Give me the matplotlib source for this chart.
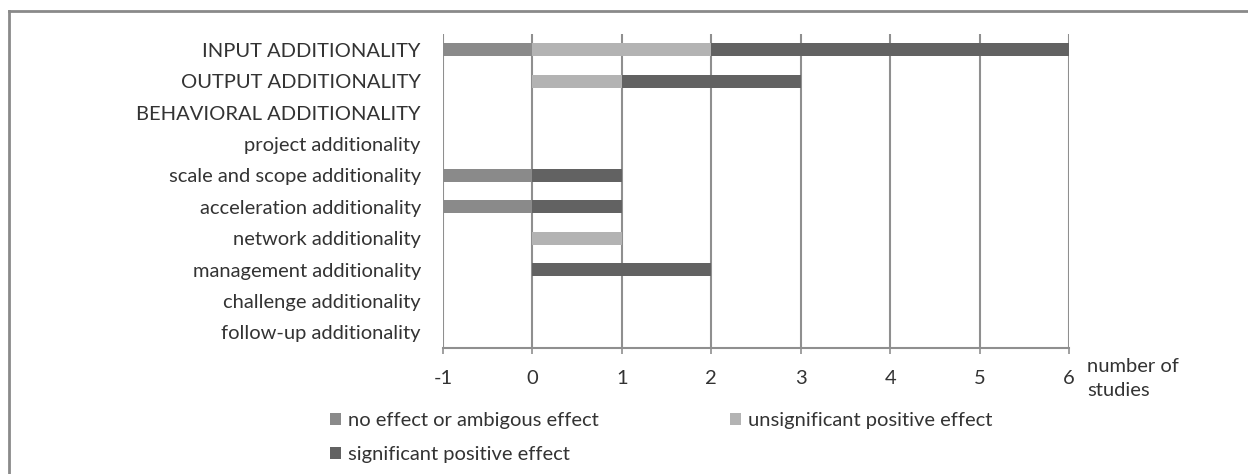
import matplotlib
matplotlib.use("Agg")
import matplotlib.pyplot as plt
from matplotlib.lines import Line2D
import numpy as np

plt.rcParams['font.family'] = ['Lato', 'DejaVu Sans']

categories = [
    "INPUT ADDITIONALITY",
    "OUTPUT ADDITIONALITY",
    "BEHAVIORAL ADDITIONALITY",
    "project additionality",
    "scale and scope additionality",
    "acceleration additionality",
    "network additionality",
    "management additionality",
    "challenge additionality",
    "follow-up additionality",
]
no_effect = [1, 0, 0, 0, 1, 1, 0, 0, 0, 0]
unsignificant = [2, 1, 0, 0, 0, 0, 1, 0, 0, 0]
significant = [4, 2, 0, 0, 1, 1, 0, 2, 0, 0]
series_labels = ["no effect or ambigous effect", "unsignificant positive effect",
                 "significant positive effect"]
xticks = [-1, 0, 1, 2, 3, 4, 5, 6]

c_no = "#8a8a8a"
c_unsig = "#b3b3b3"
c_sig = "#626262"
grid_c = "#8f8f8f"
text_c = "#333333"
fs = 14.5

W, H = 1248, 474
fig = plt.figure(figsize=(W / 100, H / 100), dpi=100)
ax = fig.add_axes([443 / W, 1 - 348 / H, (1069 - 443) / W, (348 - 34) / H])

y = np.arange(len(categories))
ne = np.array(no_effect, dtype=float)
us = np.array(unsignificant, dtype=float)
sg = np.array(significant, dtype=float)
bh = 0.42
b1 = ax.barh(y, ne, left=-ne, height=bh, color=c_no, label=series_labels[0], zorder=3)
b2 = ax.barh(y, us, left=0, height=bh, color=c_unsig, label=series_labels[1], zorder=3)
b3 = ax.barh(y, sg, left=us, height=bh, color=c_sig, label=series_labels[2], zorder=3)

ax.set_xlim(-1, 6)
ax.set_ylim(len(categories) - 0.5, -0.5)
ax.set_xticks(xticks)
ax.set_xticklabels([str(t) for t in xticks])
ax.set_yticks(y)
ax.set_yticklabels(categories)
for t in xticks:
    ax.axvline(t, color=grid_c, lw=1.5, zorder=1)

for s in ["top", "right", "left"]:
    ax.spines[s].set_visible(False)
ax.spines["bottom"].set_color(grid_c)
ax.spines["bottom"].set_linewidth(1.5)
ax.tick_params(axis="x", length=4.5, width=1.2, color=grid_c, pad=11.5,
               labelsize=fs, labelcolor=text_c)
ax.tick_params(axis="y", length=0, pad=16, labelsize=fs, labelcolor=text_c)

fig.text(1087 / W, 1 - 379 / H, "number of\nstudies", ha="left", va="center",
         fontsize=fs, color=text_c, linespacing=1.5)

leg = fig.legend([b1, b3, b2], [series_labels[0], series_labels[2], series_labels[1]],
                 ncol=2, loc="upper left", bbox_to_anchor=(330 / W, 1 - 412 / H),
                 frameon=False, fontsize=fs, handlelength=0.55, handleheight=0.55,
                 handletextpad=0.35, columnspacing=6.5, labelspacing=0.85,
                 borderpad=0, borderaxespad=0)
for t in leg.get_texts():
    t.set_color(text_c)

# outer frame (cropped on right and bottom)
fig.add_artist(Line2D([9 / W, 1], [1 - 11 / H, 1 - 11 / H], transform=fig.transFigure,
                      color="#8a8a8a", lw=2))
fig.add_artist(Line2D([9 / W, 9 / W], [1 - 11 / H, 0], transform=fig.transFigure,
                      color="#8a8a8a", lw=2))

fig.savefig("out.png", dpi=100)
